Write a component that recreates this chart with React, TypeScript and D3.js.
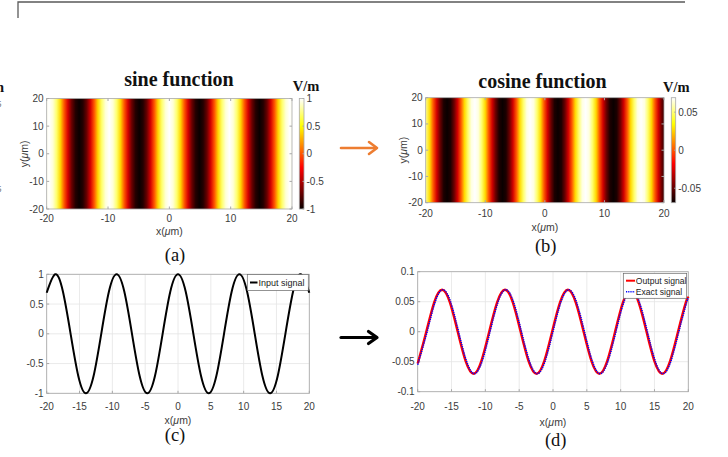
import React from 'react';
import * as d3 from 'd3';

// heatmap (a): field along x (V/m), constant in y
const sineMapX = [-20, -19.6, -18.99, -18.38, -17.76, -17.15, -16.54, -15.93, -15.31, -14.7, -14.09, -13.48, -12.86, -12.25, -11.64, -11.03, -10.41, -9.8, -9.19, -8.58, -7.96, -7.35, -6.74, -6.13, -5.51, -4.9, -4.29, -3.68, -3.06, -2.45, -1.84, -1.23, -0.61, 0, 0.61, 1.23, 1.84, 2.45, 3.06, 3.68, 4.29, 4.9, 5.51, 6.13, 6.74, 7.35, 7.96, 8.58, 9.19, 9.8, 10.41, 11.03, 11.64, 12.25, 12.86, 13.48, 14.09, 14.7, 15.31, 15.93, 16.54, 17.15, 17.76, 18.38, 18.99, 19.6, 20];
const sineMapV = [0.97,
  1, 0.92, 0.71, 0.38, 0, -0.38, -0.71, -0.92, -1, -0.92, -0.71, -0.38, 0, 0.38, 0.71, 0.92,
  1, 0.92, 0.71, 0.38, 0, -0.38, -0.71, -0.92, -1, -0.92, -0.71, -0.38, 0, 0.38, 0.71, 0.92,
  1, 0.92, 0.71, 0.38, 0, -0.38, -0.71, -0.92, -1, -0.92, -0.71, -0.38, 0, 0.38, 0.71, 0.92,
  1, 0.92, 0.71, 0.38, 0, -0.38, -0.71, -0.92, -1, -0.92, -0.71, -0.38, 0, 0.38, 0.71, 0.92,
  1, 0.97];

// heatmap (b)
const cosineMapX = [-20, -19.31, -18.73, -18.14, -17.56, -16.98, -16.4, -15.82, -15.24, -14.66, -14.08, -13.49, -12.91, -12.33, -11.75, -11.17, -10.59, -10.01, -9.43, -8.84, -8.26, -7.68, -7.1, -6.52, -5.94, -5.36, -4.78, -4.19, -3.61, -3.03, -2.45, -1.87, -1.29, -0.71, -0.13, 0.46, 1.04, 1.62, 2.2, 2.78, 3.36, 3.94, 4.53, 5.11, 5.69, 6.27, 6.85, 7.43, 8.01, 8.59, 9.18, 9.76, 10.34, 10.92, 11.5, 12.08, 12.66, 13.24, 13.83, 14.41, 14.99, 15.57, 16.15, 16.73, 17.31, 17.89, 18.48, 19.06, 19.64, 20];
const cosineMapV = [0.053, 0.027,
  0, -0.027, -0.049, -0.065, -0.07, -0.065, -0.049, -0.027, 0, 0.027, 0.049, 0.065, 0.07, 0.065, 0.049, 0.027,
  0, -0.027, -0.049, -0.065, -0.07, -0.065, -0.049, -0.027, 0, 0.027, 0.049, 0.065, 0.07, 0.065, 0.049, 0.027,
  0, -0.027, -0.049, -0.065, -0.07, -0.065, -0.049, -0.027, 0, 0.027, 0.049, 0.065, 0.07, 0.065, 0.049, 0.027,
  0, -0.027, -0.049, -0.065, -0.07, -0.065, -0.049, -0.027, 0, 0.027, 0.049, 0.065, 0.07, 0.065, 0.049, 0.027,
  0, -0.027, -0.049, -0.058];

// (c) input signal
const inputX = [-20, -18.7, -17.53, -16.36, -15.19, -14.03, -12.86, -11.69, -10.52, -9.35, -8.18, -7.01, -5.84, -4.68, -3.51, -2.34, -1.17, 0, 1.17, 2.34, 3.51, 4.68, 5.84, 7.01, 8.18, 9.35, 10.52, 11.69, 12.86, 14.03, 15.19, 16.36, 17.53, 18.7, 20];
const inputY = [0.69, 1, 0.71, 0, -0.71, -1, -0.71, 0, 0.71, 1, 0.71, 0, -0.71, -1, -0.71, 0, 0.71, 1, 0.71, 0, -0.71, -1, -0.71, 0, 0.71, 1, 0.71, 0, -0.71, -1, -0.71, 0, 0.71, 1, 0.69];

// (d) output and exact signal
const outputX = [-20, -18.73, -17.56, -16.4, -15.24, -14.08, -12.91, -11.75, -10.59, -9.43, -8.26, -7.1, -5.94, -4.78, -3.61, -2.45, -1.29, -0.13, 1.04, 2.2, 3.36, 4.53, 5.69, 6.85, 8.01, 9.18, 10.34, 11.5, 12.66, 13.83, 14.99, 16.15, 17.31, 18.48, 19.64, 20];
const outputY = [-0.053, 0, 0.049, 0.07, 0.049, 0, -0.049, -0.07, -0.049, 0, 0.049, 0.07, 0.049, 0, -0.049, -0.07, -0.049, 0, 0.049, 0.07, 0.049, 0, -0.049, -0.07, -0.049, 0, 0.049, 0.07, 0.049, 0, -0.049, -0.07, -0.049, 0, 0.049, 0.056];
const exactX = [-20, -18.61, -17.44, -16.28, -15.12, -13.96, -12.79, -11.63, -10.47, -9.31, -8.14, -6.98, -5.82, -4.66, -3.49, -2.33, -1.17, -0.01, 1.16, 2.32, 3.48, 4.65, 5.81, 6.97, 8.13, 9.3, 10.46, 11.62, 12.78, 13.95, 15.11, 16.27, 17.43, 18.6, 19.76, 20];
const exactY = [-0.055, 0, 0.049, 0.07, 0.049, 0, -0.049, -0.07, -0.049, 0, 0.049, 0.07, 0.049, 0, -0.049, -0.07, -0.049, 0, 0.049, 0.07, 0.049, 0, -0.049, -0.07, -0.049, 0, 0.049, 0.07, 0.049, 0, -0.049, -0.07, -0.049, 0, 0.049, 0.054];

const mapTicks = [-20, -10, 0, 10, 20];
const sineBarTicks = [-1, -0.5, 0, 0.5, 1];
const cosineBarTicks = [-0.05, 0, 0.05];
const lineXTicks = [-20, -15, -10, -5, 0, 5, 10, 15, 20];
const inputTicks = [-1, -0.5, 0, 0.5, 1];
const outputTicks = [-0.1, -0.05, 0, 0.05, 0.1];

const SANS = '"Liberation Sans", Arial, sans-serif';
const SERIF = '"Liberation Serif", "Times New Roman", serif';
const TXT = '#3c3c3c';
const BOX = '#a8a8a8';
const GRID = '#e4e4e4';

// matlab "hot"
function hot(lo: number, hi: number) {
  const s = hi - lo;
  return d3.scaleLinear<string>()
    .domain([lo, lo + 0.375 * s, lo + 0.75 * s, hi])
    .range(['#0a0000', '#ff0000', '#ffff00', '#ffffff'])
    .clamp(true);
}

function Micron({ axis, x, y, rotate }: any) {
  return (
    <text x={x} y={y} fontFamily={SANS} fontSize={10.5} fill={TXT} textAnchor="middle"
      transform={rotate ? `rotate(-90 ${x} ${y})` : undefined}>
      {axis}(<tspan fontStyle="italic">μ</tspan>m)
    </text>
  );
}

function HeatPanel(p: any) {
  const x = d3.scaleLinear().domain([-20, 20]).range([p.left, p.right]);
  const y = d3.scaleLinear().domain([-20, 20]).range([p.bottom, p.top]);
  const color = hot(p.lo, p.hi);
  const cb = d3.scaleLinear().domain([p.lo, p.hi]).range([p.bottom, p.top]);
  const pts = d3.zip(p.xs, p.vs) as [number, number][];
  const w = p.right - p.left;
  return (
    <g>
      <defs>
        <linearGradient id={p.id + 'map'} gradientUnits="userSpaceOnUse" x1={p.left} x2={p.right} y1={0} y2={0}>
          {pts.map(([xv, v], i) => <stop key={i} offset={(x(xv) - p.left) / w} stopColor={color(v)} />)}
        </linearGradient>
        <linearGradient id={p.id + 'bar'} x1={0} y1={1} x2={0} y2={0}>
          {color.domain().map((v, i) => <stop key={i} offset={(v - p.lo) / (p.hi - p.lo)} stopColor={color(v)} />)}
        </linearGradient>
      </defs>
      <text x={p.titleX} y={p.titleY} fontFamily={SERIF} fontWeight="bold" fontSize={20} textAnchor="middle" fill="#111">{p.title}</text>
      <text x={p.unitX} y={p.unitY} fontFamily={SERIF} fontWeight="bold" fontSize={14.5} fill="#111">V/m</text>
      <rect x={p.left} y={p.top} width={w} height={p.bottom - p.top} fill={`url(#${p.id}map)`} stroke={BOX} strokeWidth={0.8} />
      {mapTicks.map(t => (
        <g key={'x' + t}>
          <line x1={x(t)} x2={x(t)} y1={p.bottom} y2={p.bottom - 2.5} stroke={BOX} />
          <line x1={x(t)} x2={x(t)} y1={p.top} y2={p.top + 2.5} stroke={BOX} />
          <text x={x(t)} y={p.xTickY} fontFamily={SANS} fontSize={10} fill={TXT} textAnchor="middle">{String(t)}</text>
        </g>
      ))}
      {mapTicks.map(t => (
        <g key={'y' + t}>
          <line x1={p.left} x2={p.left + 2.5} y1={y(t)} y2={y(t)} stroke={BOX} />
          <line x1={p.right} x2={p.right - 2.5} y1={y(t)} y2={y(t)} stroke={BOX} />
          <text x={p.left - 3} y={y(t) + 3.5} fontFamily={SANS} fontSize={10} fill={TXT} textAnchor="end">{String(t)}</text>
        </g>
      ))}
      <Micron axis="x" x={(p.left + p.right) / 2} y={p.xLabelY} />
      <Micron axis="y" x={p.yLabelX} y={(p.top + p.bottom) / 2} rotate />
      <rect x={p.barLeft} y={p.top} width={p.barRight - p.barLeft} height={p.bottom - p.top} fill={`url(#${p.id}bar)`} stroke={BOX} strokeWidth={0.8} />
      {p.barTicks.map((t: number) => (
        <g key={'c' + t}>
          <line x1={p.barRight} x2={p.barRight - 1.5} y1={cb(t)} y2={cb(t)} stroke={BOX} />
          <text x={p.barRight + 2.5} y={cb(t) + 3.5} fontFamily={SANS} fontSize={10} fill={TXT}>{String(t)}</text>
        </g>
      ))}
    </g>
  );
}

function LineFrame(p: any) {
  const { x, y } = p;
  const [x0, x1] = x.range();
  const [y0, y1] = y.range();
  return (
    <g>
      <rect x={x0} y={y1} width={x1 - x0} height={y0 - y1} fill="#fff" />
      {lineXTicks.map(t => <line key={'gx' + t} x1={x(t)} x2={x(t)} y1={y1} y2={y0} stroke={GRID} strokeWidth={0.8} />)}
      {p.yTicks.map((t: number) => <line key={'gy' + t} x1={x0} x2={x1} y1={y(t)} y2={y(t)} stroke={GRID} strokeWidth={0.8} />)}
      <rect x={x0} y={y1} width={x1 - x0} height={y0 - y1} fill="none" stroke={BOX} strokeWidth={0.8} />
      {lineXTicks.map(t => (
        <g key={'tx' + t}>
          <line x1={x(t)} x2={x(t)} y1={y0} y2={y0 - 2.5} stroke={BOX} />
          <text x={x(t)} y={p.xTickY} fontFamily={SANS} fontSize={10} fill={TXT} textAnchor="middle">{String(t)}</text>
        </g>
      ))}
      {p.yTicks.map((t: number) => (
        <g key={'ty' + t}>
          <line x1={x0} x2={x0 + 2.5} y1={y(t)} y2={y(t)} stroke={BOX} />
          <text x={x0 - 3} y={y(t) + 3.5} fontFamily={SANS} fontSize={10} fill={TXT} textAnchor="end">{String(t)}</text>
        </g>
      ))}
      <Micron axis="x" x={(x0 + x1) / 2} y={p.xLabelY} />
    </g>
  );
}

export default function App() {
  const xc = d3.scaleLinear().domain([-20, 20]).range([46.7, 309.3]);
  const yc = d3.scaleLinear().domain([-1, 1]).range([393.3, 274.3]);
  const xd = d3.scaleLinear().domain([-20, 20]).range([417.7, 688.3]);
  const yd = d3.scaleLinear().domain([-0.1, 0.1]).range([391.7, 271.7]);

  const lineC = d3.line<[number, number]>().x(d => xc(d[0])).y(d => yc(d[1])).curve(d3.curveNatural);
  const lineD = d3.line<[number, number]>().x(d => xd(d[0])).y(d => yd(d[1])).curve(d3.curveNatural);

  const input = d3.zip(inputX, inputY) as [number, number][];
  const output = d3.zip(outputX, outputY) as [number, number][];
  const exact = d3.zip(exactX, exactY) as [number, number][];

  return (
    <svg width={728} height={457} viewBox="0 0 728 457"
      style={{ position: 'absolute', left: 0, top: 0, background: '#fff' }}>
      <rect width={728} height={457} fill="#fff" />
      {/* page frame and clipped neighbour */}
      <path d="M18,18 V2 H685" fill="none" stroke="#5a5a5a" strokeWidth={1.3} />
      <text x={-8} y={92} fontFamily={SERIF} fontWeight="bold" fontSize={14.5} fill="#111">m</text>
      <text x={-3.5} y={107} fontFamily={SANS} fontSize={9} fill="#777">5</text>
      <text x={-3.5} y={192} fontFamily={SANS} fontSize={9} fill="#777">5</text>

      <HeatPanel id="a" xs={sineMapX} vs={sineMapV} lo={-1} hi={1} barTicks={sineBarTicks}
        left={46.7} right={292} top={98.5} bottom={209} barLeft={299.3} barRight={304}
        title="sine function" titleX={179} titleY={86} unitX={292.7} unitY={90.5}
        xTickY={222} xLabelY={235} yLabelX={28} />
      <HeatPanel id="b" xs={cosineMapX} vs={cosineMapV} lo={-0.069} hi={0.069} barTicks={cosineBarTicks}
        left={425.7} right={664} top={97.7} bottom={202.7} barLeft={671.3} barRight={675.7}
        title="cosine function" titleX={542.5} titleY={88} unitX={663} unitY={91.5}
        xTickY={217} xLabelY={230.5} yLabelX={407} />

      <text x={175} y={261} fontFamily={SERIF} fontSize={18.5} textAnchor="middle" fill="#111">(a)</text>
      <text x={545.7} y={252} fontFamily={SERIF} fontSize={18.5} textAnchor="middle" fill="#111">(b)</text>

      {/* arrows */}
      <g stroke="#ed7d31" strokeWidth={2.6} fill="none" strokeLinecap="round" strokeLinejoin="round">
        <line x1={341} y1={148} x2={376} y2={148} />
        <polyline points="369,142 377,148 369,154" />
      </g>
      <g stroke="#000" strokeWidth={3.2} fill="none" strokeLinecap="round" strokeLinejoin="round">
        <line x1={341} y1={337.5} x2={376} y2={337.5} />
        <polyline points="368.5,331.5 377,337.5 368.5,343.5" />
      </g>

      {/* (c) */}
      <LineFrame x={xc} y={yc} yTicks={inputTicks} xTickY={409.5} xLabelY={424} />
      <path d={lineC(input) || ''} fill="none" stroke="#000" strokeWidth={2} />
      <g>
        <rect x={247.3} y={274.5} width={61} height={16} fill="#fff" stroke="#666" strokeWidth={0.7} />
        <line x1={250} x2={257.5} y1={282.5} y2={282.5} stroke="#000" strokeWidth={2} />
        <text x={258.5} y={285.8} fontFamily={SANS} fontSize={9} fill="#222">Input signal</text>
      </g>
      <text x={175} y={441} fontFamily={SERIF} fontSize={18.5} textAnchor="middle" fill="#111">(c)</text>

      {/* (d) */}
      <LineFrame x={xd} y={yd} yTicks={outputTicks} xTickY={409.5} xLabelY={425.5} />
      <path d={lineD(output) || ''} fill="none" stroke="#ff0000" strokeWidth={2.4} />
      <path d={lineD(exact) || ''} fill="none" stroke="#0000ff" strokeWidth={1.6} strokeDasharray="1.2 1" />
      <g>
        <rect x={623.3} y={273.3} width={63.4} height={25} fill="#fff" stroke="#666" strokeWidth={0.7} />
        <line x1={626} x2={635} y1={280.7} y2={280.7} stroke="#ff0000" strokeWidth={2} />
        <line x1={626} x2={635} y1={291.7} y2={291.7} stroke="#0000ff" strokeWidth={1.6} strokeDasharray="1.2 1" />
        <text x={635.8} y={284} fontFamily={SANS} fontSize={8.6} fill="#222">Output signal</text>
        <text x={635.8} y={295} fontFamily={SANS} fontSize={8.6} fill="#222">Exact signal</text>
      </g>
      <text x={555.7} y={446} fontFamily={SERIF} fontSize={18.5} textAnchor="middle" fill="#111">(d)</text>
    </svg>
  );
}
